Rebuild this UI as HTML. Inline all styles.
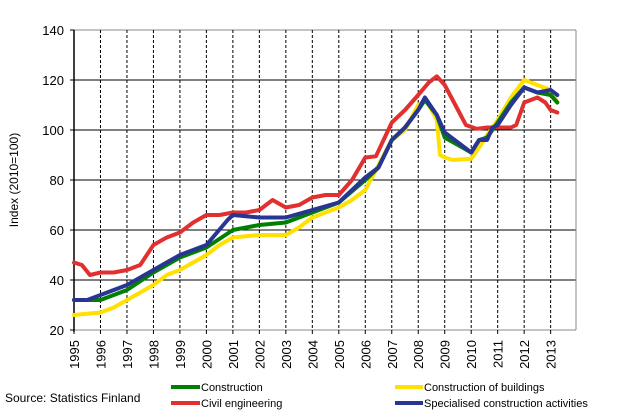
<!DOCTYPE html>
<html><head><meta charset="utf-8"><style>
body{margin:0;background:#fff;}
svg{display:block;font-family:"Liberation Sans",Arial,sans-serif;}
</style></head><body>
<svg id="s" width="617" height="417" viewBox="0 0 617 417" xmlns="http://www.w3.org/2000/svg">
<rect width="617" height="417" fill="#fff"/>
<g id="grid"></g>
<g id="lines" fill="none" stroke-width="4" stroke-linejoin="round" stroke-linecap="round"></g>
<text x="18" y="180" font-size="12" transform="rotate(-90 18 180)" text-anchor="middle">Index (2010=100)</text>
<text x="5" y="402" font-size="12">Source: Statistics Finland</text>
<line x1="171" y1="387" x2="200" y2="387" stroke="#008000" stroke-width="4"/>
<text x="201" y="391" font-size="11">Construction</text>
<line x1="171" y1="403" x2="200" y2="403" stroke="#e03030" stroke-width="4"/>
<text x="201" y="407" font-size="11">Civil engineering</text>
<line x1="395" y1="387" x2="423" y2="387" stroke="#ffe000" stroke-width="4"/>
<text x="424" y="391" font-size="11">Construction of buildings</text>
<line x1="395" y1="403" x2="423" y2="403" stroke="#283593" stroke-width="4"/>
<text x="424" y="407" font-size="11">Specialised construction activities</text>
</svg>
<script>
var NS="http://www.w3.org/2000/svg";
function X(t){return 74+26.48*(t-1995);}
function Y(v){return 330-2.5*(v-20);}
var g=document.getElementById('grid'),s=document.getElementById('s');
function el(p,n,a){var e=document.createElementNS(NS,n);for(var k in a)e.setAttribute(k,a[k]);p.appendChild(e);return e;}
for(var v=20;v<=140;v+=20){
 el(g,'line',{x1:74,x2:576,y1:Y(v),y2:Y(v),stroke:(v==20||v==140)?'#888':'#000','stroke-width':1});
 el(g,'line',{x1:70,x2:74,y1:Y(v),y2:Y(v),stroke:'#000'});
 var t=el(g,'text',{x:64,y:Y(v)+5,'font-size':13,'text-anchor':'end'});t.textContent=v;
}
el(g,'line',{x1:576,x2:576,y1:30,y2:330,stroke:'#888'});
for(var y=1995;y<=2013;y++){
 var x=X(y);
 if(y>1995)el(g,'line',{x1:x,x2:x,y1:30,y2:330,stroke:'#000','stroke-dasharray':'3,2'});
 el(g,'line',{x1:x,x2:x,y1:330,y2:334,stroke:'#000'});
 var t=el(g,'text',{x:0,y:0,'font-size':13,'text-anchor':'end',transform:'translate('+(x+5)+',340) rotate(-90)'});t.textContent=y;
}
el(g,'line',{x1:74,x2:74,y1:30,y2:332,stroke:'#000','stroke-width':1.5});
var D={
'#ffe000':[1995,26,1996,27,1996.5,29,1997,32,1997.5,35,1998,38,1998.5,42,1999,44,1999.5,47,2000,50,2000.5,54,2001,57,2002,58,2003,58,2003.5,61,2004,65,2005,69,2005.5,72,2006,76,2006.5,86,2007,96,2007.5,100,2008,110,2008.3,112,2008.7,104,2008.82,90,2009,89,2009.3,88,2010,88.5,2010.3,93,2010.6,98,2011,104,2011.5,113,2012,120,2012.5,118,2013,116,2013.25,111],
'#e03030':[1995,47,1995.3,46,1995.6,42,1996,43,1996.5,43,1997,44,1997.5,46,1998,54,1998.5,57,1999,59,1999.5,63,2000,66,2000.5,66,2001,67,2001.5,67,2002,68,2002.5,72,2003,69,2003.5,70,2004,73,2004.5,74,2005,74,2005.5,80,2006,89,2006.4,89.5,2007,103,2007.5,108,2008,114,2008.4,119,2008.7,121.5,2009,118,2009.5,108,2009.8,102,2010.2,100.5,2010.6,101,2011,101,2011.5,101,2011.7,102,2012,111,2012.5,113,2012.8,111,2013,108,2013.25,107],
'#008000':[1995,32,1996,32,1997,36,1998,43,1999,49,2000,53,2001,60,2002,62,2003,63,2004,67,2005,71,2006,80,2006.5,85,2007,96,2007.5,101,2008,108,2008.25,112,2008.7,106,2009,97,2009.5,94,2010,91,2010.3,96,2010.6,97,2011,103,2011.5,111,2012,117,2012.5,115,2013,114,2013.25,111],
'#283593':[1995,32,1995.5,32,1996,34,1997,38,1998,44,1999,50,2000,54,2000.8,64,2001,66,2002,65,2003,65,2004,68,2005,71,2006,81,2006.5,85,2007,96,2007.5,101,2008,108,2008.25,113,2008.7,106,2009,99,2009.5,95,2010,91,2010.3,96,2010.6,96,2010.8,101,2011,102,2011.5,110,2012,117,2012.5,115,2013,116,2013.25,114]};
var L=document.getElementById('lines');
for(var c in D){var a=D[c],p=[];for(var i=0;i<a.length;i+=2)p.push(X(a[i]).toFixed(1)+','+Y(a[i+1]).toFixed(1));
 el(L,'polyline',{points:p.join(' '),stroke:c});}
</script>
</body></html>
